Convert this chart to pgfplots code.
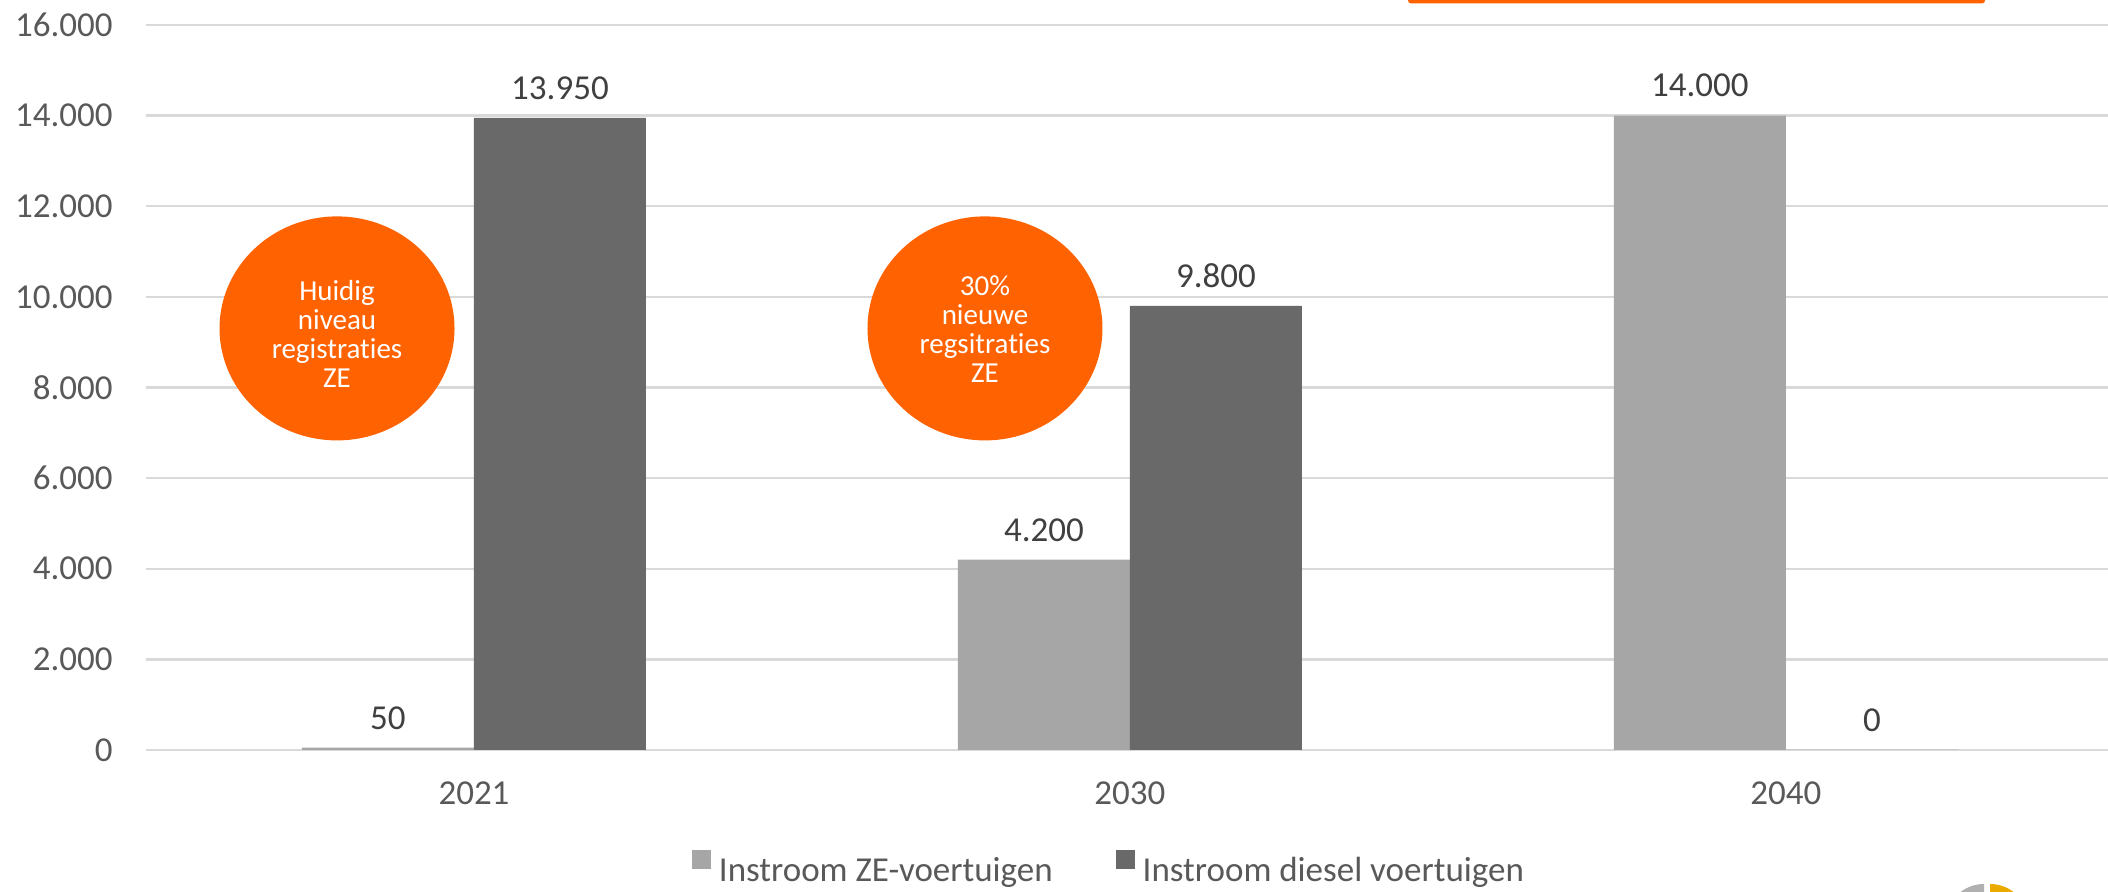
\documentclass[border=0pt]{standalone}
\usepackage{pgfplots}
\pgfplotsset{compat=1.18}
\usepackage{fontspec}
\setmainfont{Carlito}[Ligatures=NoCommon]
\definecolor{zegrey}{HTML}{A6A6A6}
\definecolor{dieselgrey}{HTML}{696969}
\definecolor{gridgrey}{HTML}{D9D9D9}
\definecolor{ingorange}{HTML}{FF6200}
\definecolor{ticktext}{HTML}{595959}
\definecolor{labeltext}{HTML}{404040}
\definecolor{logogrey}{HTML}{B0B0B0}
\definecolor{logoyellow}{HTML}{EAAA00}
\begin{document}
\begin{tikzpicture}
\path[use as bounding box] (-73pt,-71pt) rectangle (981pt,375pt);
\begin{axis}[
  scale only axis, width=981pt, height=362.5pt,
  xmin=-0.5, xmax=2.491, ymin=0, ymax=16000,
  ybar=0pt, bar width=86pt,
  xtick={0,1,2}, xticklabels={2021,2030,2040},
  ytick={0,2000,...,16000},
  scaled y ticks=false,
  ymajorgrids, grid style={gridgrey, line width=1.2pt},
  axis line style={draw=none}, major tick length=0pt,
  /pgf/number format/1000 sep={.},
  /pgf/number format/assume math mode=true,
  tick label style={font=\fontsize{17.5}{17.5}\selectfont, text=ticktext},
  xticklabel style={inner sep=0pt, yshift=-15.5pt},
  yticklabel style={inner sep=0pt, xshift=-16.5pt},
  nodes near coords,
  every node near coord/.append style={font=\fontsize{17.5}{17.5}\selectfont, text=labeltext, inner sep=0pt, anchor=south, yshift=9pt},
  clip=false,
  legend style={at={(0.4903,-0.162)}, anchor=center, draw=none, fill=none,
    font=\fontsize{17.5}{17.5}\selectfont, text=ticktext,
    nodes={inner sep=0pt},
    /tikz/every even column/.append style={column sep=31.5pt},
    /tikz/every odd column/.append style={column sep=4pt}},
  legend columns=2,
]
\addplot[fill=zegrey, draw=none,
  legend image code/.code={\fill[zegrey] (0pt,0.8pt) rectangle (9.5pt,10.3pt);}]
  coordinates {(0,50) (1,4200) (2,14000)};
\addplot[fill=dieselgrey, draw=none,
  legend image code/.code={\fill[dieselgrey] (0pt,0.8pt) rectangle (9.5pt,10.3pt);}]
  coordinates {(0,13950) (1,9800) (2,0)};
\legend{Instroom ZE-voertuigen, Instroom diesel voertuigen}
\fill[ingorange] (axis cs:-0.2088,9304) ellipse [x radius=58.75pt, y radius=56pt];
\fill[ingorange] (axis cs:0.779,9304) ellipse [x radius=58.75pt, y radius=56pt];
\node[text=white, align=center, font=\fontsize{14.5}{14.5}\selectfont, yshift=-3pt]
  at (axis cs:-0.2088,9304) {Huidig\\niveau\\registraties\\ZE};
\node[text=white, align=center, font=\fontsize{14.5}{14.5}\selectfont, yshift=-0.5pt]
  at (axis cs:0.779,9304) {30\%\\nieuwe\\regsitraties\\ZE};
\end{axis}
\fill[ingorange, rounded corners=1.5pt] (631pt,373.3pt) rectangle (919.5pt,380pt);
\fill[logogrey] (919pt,-86.25pt) -- ++(90:19.25pt) arc[start angle=90, end angle=180, radius=19.25pt] -- cycle;
\fill[logoyellow] (922pt,-86.25pt) -- ++(90:19.25pt) arc[start angle=90, end angle=0, radius=19.25pt] -- cycle;
\end{tikzpicture}
\end{document}
